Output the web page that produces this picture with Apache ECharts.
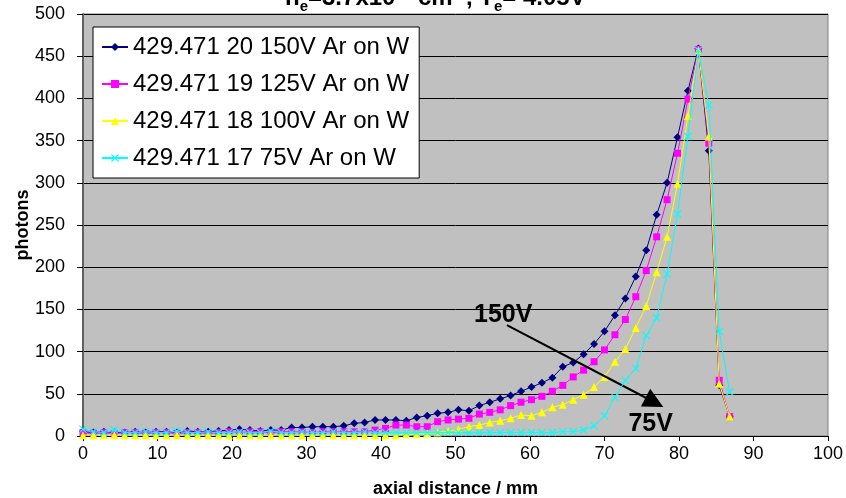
<!DOCTYPE html>
<html>
<head>
<meta charset="utf-8">
<script src="https://cdn.jsdelivr.net/npm/echarts@6/dist/echarts.min.js"></script>
<style>html,body{margin:0;padding:0;background:#fff}#c{width:846px;height:498px}</style>
</head>
<body>
<div id="c"></div>
<script>
// axial distance (mm)
var distance = [0,1.4,2.8,4.2,5.6,7,8.4,9.8,11.2,12.6,14,15.4,16.8,18.2,19.6,21,22.4,23.8,25.2,26.6,28,29.4,30.8,32.2,33.6,35,36.4,37.8,39.2,40.6,42,43.4,44.8,46.2,47.6,49,50.4,51.8,53.2,54.6,56,57.4,58.8,60.2,61.6,63,64.4,65.8,67.2,68.6,70,71.4,72.8,74.2,75.6,77,78.4,79.8,81.2,82.6,84,85.4,86.8];
var seriesNames = ['429.471 20 150V Ar on W','429.471 19 125V Ar on W','429.471 18 100V Ar on W','429.471 17 75V Ar on W'];
var v150 = [5,4,5,4,4,5,4,5,5,4,6,5,5,6, 7,8,7,6,7,7,10,10,11,11,11,12,15,16, 19,19,19,18,22,24,27,28,31,30,36,40,44,48, 53,58,63,69,82,87,97,109,124,143,163,189,220,262, 300,354,409,459,338,60,23];
var v125 = [4,3,4,3,4,4,3,4,4,3,4,4,3,4, 5,4,5,5,4,5,5,5,4,5,5,5,5,5, 7,9,13,13,11,11,17,19,20,21,26,28,31,36, 40,43,47,53,60,70,78,88,102,120,138,165,196,236, 280,335,399,458,347,66,23];
var v100 = [1,1,1,1,1,1,1,1,1,1,1,1,1,1, 1,1,1,1,1,1,1,1,1,1,1,1,1,1, 1,1,1,2,2,3,4,6,8,11,13,16,18,21, 25,24,28,34,37,43,49,58,70,88,103,128,154,194, 236,299,379,457,355,62,23];
var v75 = [8,5,4,7,4,4,5,4,4,6,4,4,5,4, 4,5,4,4,6,4,4,5,4,4,5,4,4,5, 4,4,4,4,4,4,4,4,4,4,4,4,4,4, 4,4,4,4,5,5,7,12,24,46,66,80,119,140, 192,263,355,457,392,124,52];
var xTicks = [0,10,20,30,40,50,60,70,80,90,100];
var yTicks = [0,50,100,150,200,250,300,350,400,450,500];
var arrowFrom = [56.9, 131.5];
var arrowTo = [76.7, 40];
var label150 = [56.4, 143.5];
var label75 = [76.2, 13.5];

var FONT = 'Arial, "Liberation Sans", sans-serif';
function pairs(vals){ return vals.map(function(v,i){ return [distance[i], v]; }); }
var crossPath = 'path://M0,1L1,0L5,4L9,0L10,1L6,5L10,9L9,10L5,6L1,10L0,9L4,5Z';
var cols = ['#000080','#FF00FF','#FFFF00','#00FFFF'];
var syms = ['diamond','rect','triangle',crossPath];
var sizes = [8,7,8,8];
var vals = [v150,v125,v100,v75];

var series = vals.map(function(v,k){
  return {
    name: seriesNames[k], type:'line', data: pairs(v),
    symbol: syms[k], symbolSize: sizes[k], showAllSymbol: true,
    lineStyle:{color:cols[k], width:1}, itemStyle:{color:cols[k]},
    animation:false, z: 2+k
  };
});
series.push({
  type:'line', data:[], silent:true, animation:false, z:10,
  markLine:{
    silent:true, animation:false, symbol:['none','triangle'], symbolSize:20,
    lineStyle:{color:'#000', width:2, type:'solid'}, itemStyle:{color:'#000'}, label:{show:false},
    data:[[{coord:arrowFrom},{coord:arrowTo}]]
  },
  markPoint:{
    silent:true, animation:false, symbol:'circle', symbolSize:0,
    label:{show:true, color:'#000', fontFamily:FONT, fontWeight:'bold', fontSize:25, formatter:'{b}'},
    data:[{name:'150V', coord:label150},{name:'75V', coord:label75}]
  }
});

var chart = echarts.init(document.getElementById('c'), null, {renderer:'canvas'});
chart.setOption({
  backgroundColor:'#fff',
  animation:false,
  title:{
    text:'{a|n}{b|e}{a|=3.7x10}{c|11}{a| cm}{c|-3}{a|, T}{b|e}{a|= 4.05V}',
    left:280, top:-21,
    textStyle:{rich:{
      a:{fontFamily:FONT, fontWeight:'bold', fontSize:24, color:'#000', verticalAlign:'bottom', lineHeight:26},
      b:{fontFamily:FONT, fontWeight:'bold', fontSize:15, color:'#000', verticalAlign:'bottom', lineHeight:20, padding:[0,0,-4,0]},
      c:{fontFamily:FONT, fontWeight:'bold', fontSize:15, color:'#000', verticalAlign:'top', lineHeight:15}
    }}
  },
  grid:{left:83, right:18, top:14, bottom:62, containLabel:false, outerBoundsMode:'none', show:true, backgroundColor:'#C0C0C0', borderColor:'#808080', borderWidth:1},
  legend:{
    orient:'vertical', left:93, top:27, data:seriesNames,
    backgroundColor:'#fff', borderColor:'#000', borderWidth:1,
    padding:[8,10,8,8], itemWidth:26, itemHeight:10, itemGap:13,
    textStyle:{fontFamily:FONT, fontSize:24, color:'#000', lineHeight:24}
  },
  xAxis:{
    type:'value', min:0, max:100, interval:10,
    name:'axial distance / mm', nameLocation:'middle', nameGap:44, nameMoveOverlap:false,
    nameTextStyle:{fontFamily:FONT, fontWeight:'bold', fontSize:18, color:'#000'},
    axisLine:{show:true, onZero:false, lineStyle:{color:'#000', width:1}},
    axisTick:{show:true, length:5, lineStyle:{color:'#000'}},
    axisLabel:{fontFamily:FONT, fontSize:18, color:'#000', margin:9, formatter:function(v){return xTicks.indexOf(v)>=0?String(v):'';}},
    splitLine:{show:false}
  },
  yAxis:{
    type:'value', min:0, max:500, interval:50,
    name:'photons', nameLocation:'middle', nameGap:51, nameRotate:90, nameMoveOverlap:false,
    nameTextStyle:{fontFamily:FONT, fontWeight:'bold', fontSize:18, color:'#000'},
    axisLine:{show:true, lineStyle:{color:'#606060', width:2}},
    axisTick:{show:true, length:6, lineStyle:{color:'#000'}},
    axisLabel:{fontFamily:FONT, fontSize:18, color:'#000', margin:18, formatter:function(v){return yTicks.indexOf(v)>=0?String(v):'';}},
    splitLine:{show:true, lineStyle:{color:'#000', width:1}}
  },
  series: series
});
</script>
</body>
</html>
